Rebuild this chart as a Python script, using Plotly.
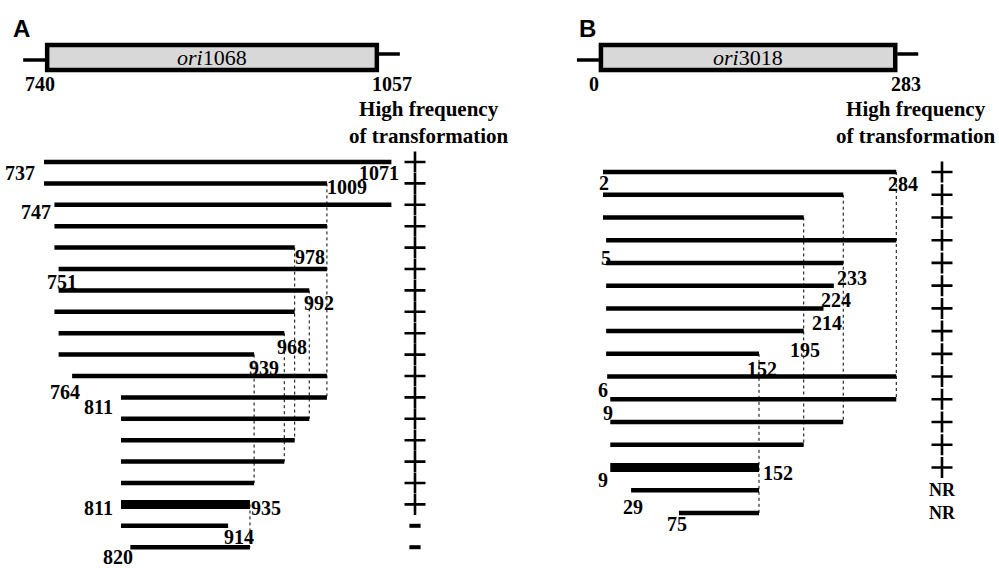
import plotly.graph_objects as go

W, H = 999, 568

# ---------------- data ----------------
# Panel A : ori1068
A_ori_name = "1068"
A_ori_start, A_ori_end = 740, 1057
A_start = [737, 737, 747, 747, 747, 751, 751, 747, 751, 751, 764, 811, 811, 811, 811, 811, 811, 811, 820]
A_end = [1071, 1009, 1071, 1009, 978, 1009, 992, 978, 968, 939, 1009, 1009, 992, 978, 968, 939, 935, 914, 935]
A_thick = [16]
A_hft = ["+"] * 17 + ["-"] * 2
A_dotted = [1009, 992, 978, 968, 939, 935]

# Panel B : ori3018
B_ori_name = "3018"
B_ori_start, B_ori_end = 0, 283
B_start = [2, 2, 2, 5, 5, 5, 5, 5, 5, 6, 9, 9, 9, 9, 29, 75]
B_end = [284, 233, 195, 284, 233, 224, 214, 195, 152, 284, 284, 233, 195, 152, 152, 152]
B_thick = [13]
B_hft = ["+"] * 14 + ["NR"] * 2
B_dotted = [284, 233, 195, 152]

HEADER = "High frequency<br>of transformation"

# label layout: (value, row position, xanchor, xshift px)
A_labels = [
    (737, 0.5, "right", -7), (1071, 0.5, "center", -12), (1009, 1.17, "left", -2),
    (747, 2.34, "right", -1), (978, 4.44, "left", -2), (751, 5.6, "center", 3),
    (992, 6.6, "left", -7), (968, 8.64, "left", -9), (939, 9.63, "left", -7),
    (764, 10.75, "right", 10), (811, 11.45, "right", -6), (811, 16.17, "right", -6),
    (935, 16.17, "left", -1), (914, 17.52, "left", -6), (820, 18.45, "right", 5),
]
B_labels = [
    (2, 0.48, "center", 1), (284, 0.53, "center", 7), (5, 3.78, "center", 0),
    (233, 4.66, "left", -8), (224, 5.63, "center", 2), (214, 6.64, "center", 4),
    (195, 7.83, "center", 1), (152, 8.67, "center", 3), (6, 9.59, "center", -4),
    (9, 10.6, "center", -2), (9, 13.55, "center", -7), (152, 13.24, "left", 2),
    (29, 14.74, "center", 2), (75, 15.49, "center", -2),
]

# ---------------- geometry (pixel calibration) ----------------
sA, ancA_val, ancA_px = 1.04, 811, 121
sB, ancB_val, ancB_px = 1.04, 2, 603
xA0 = ancA_val - ancA_px / sA
xB0 = ancB_val - ancB_px / sB
yA_top, yA_step = 162, 21.4
yB_top, yB_step = 172, 22.73


def xA(px):
    return xA0 + px / sA


def xB(px):
    return xB0 + px / sB


def py(px):
    return 1 - px / H


SERIF = "Liberation Serif"
SANS = "Liberation Sans"

fig = go.Figure()
annotations = []
shapes = []


def panel(starts, ends, thick, hft, dotted, labels, xaxis, yaxis, xfun, plus_px,
          ori_start, ori_end, ori_name, letter, letter_px, header_px,
          start_lab_px, end_lab_px):
    xr = "x" if xaxis == "x" else "x2"
    yr = "y" if yaxis == "y" else "y2"
    # dotted guides
    for v in dotted:
        rows = [i for i, e in enumerate(ends) if e == v]
        fig.add_trace(go.Scatter(x=[v, v], y=[min(rows), max(rows)], mode="lines",
                                 line=dict(color="black", width=1, dash="dot"),
                                 xaxis=xaxis, yaxis=yaxis, hoverinfo="skip", showlegend=False))
    # fragments
    for i, (s, e) in enumerate(zip(starts, ends)):
        fig.add_trace(go.Scatter(x=[s, e], y=[i, i], mode="lines",
                                 line=dict(color="black", width=9 if i in thick else 4.5),
                                 xaxis=xaxis, yaxis=yaxis, hoverinfo="skip", showlegend=False))
    # transformation column
    xp = xfun(plus_px)
    plus_rows = [i for i, h in enumerate(hft) if h == "+"]
    minus_rows = [i for i, h in enumerate(hft) if h == "-"]
    nr_rows = [i for i, h in enumerate(hft) if h == "NR"]
    if plus_rows:
        fig.add_trace(go.Scatter(x=[xp] * len(plus_rows), y=plus_rows, mode="markers",
                                 marker=dict(symbol="cross-thin", size=15,
                                             line=dict(color="black", width=2.6)),
                                 xaxis=xaxis, yaxis=yaxis, hoverinfo="skip", showlegend=False))
    if minus_rows:
        fig.add_trace(go.Scatter(x=[xp] * len(minus_rows), y=minus_rows, mode="markers",
                                 marker=dict(symbol="line-ew", size=8,
                                             line=dict(color="black", width=4)),
                                 xaxis=xaxis, yaxis=yaxis, hoverinfo="skip", showlegend=False))
    for r in nr_rows:
        annotations.append(dict(x=xp, y=r, xref=xr, yref=yr, text="<b>NR</b>", showarrow=False,
                                font=dict(family=SERIF, size=18, color="black"),
                                xanchor="center", yanchor="middle"))
    # numeric labels
    for v, r, anc, sh in labels:
        annotations.append(dict(x=v, y=r, xref=xr, yref=yr, text=f"<b>{v}</b>", showarrow=False,
                                font=dict(family=SERIF, size=20, color="black"),
                                xanchor=anc, yanchor="middle", xshift=sh))
    # ori box
    shapes.append(dict(type="rect", xref=xr, yref="paper", x0=ori_start, x1=ori_end,
                       y0=py(45), y1=py(70), fillcolor="#d8d8d8",
                       line=dict(color="black", width=4.5), layer="below"))
    shapes.append(dict(type="line", xref=xr, yref="paper", xsizemode="pixel", xanchor=ori_start,
                       x0=-24, x1=-2, y0=py(60), y1=py(60), line=dict(color="black", width=3.5)))
    shapes.append(dict(type="line", xref=xr, yref="paper", xsizemode="pixel", xanchor=ori_end,
                       x0=2, x1=23, y0=py(54), y1=py(54), line=dict(color="black", width=3.5)))
    annotations.append(dict(x=(ori_start + ori_end) / 2, y=py(57), xref=xr, yref="paper",
                            text=f"<i>ori</i>{ori_name}", showarrow=False,
                            font=dict(family=SERIF, size=22, color="black"),
                            xanchor="center", yanchor="middle"))
    annotations.append(dict(x=ori_start, y=py(84), xref=xr, yref="paper", text=f"<b>{ori_start}</b>",
                            showarrow=False, font=dict(family=SERIF, size=20, color="black"),
                            xanchor="center", yanchor="middle", xshift=start_lab_px))
    annotations.append(dict(x=ori_end, y=py(84), xref=xr, yref="paper", text=f"<b>{ori_end}</b>",
                            showarrow=False, font=dict(family=SERIF, size=20, color="black"),
                            xanchor="center", yanchor="middle", xshift=end_lab_px))
    # panel letter
    annotations.append(dict(x=letter_px / W, y=py(28), xref="paper", yref="paper",
                            text=f"<b>{letter}</b>", showarrow=False,
                            font=dict(family=SANS, size=24, color="black"),
                            xanchor="center", yanchor="middle"))
    # header
    annotations.append(dict(x=header_px / W, y=py(122), xref="paper", yref="paper",
                            text=f"<b>{HEADER}</b>", showarrow=False,
                            font=dict(family=SERIF, size=21, color="black"),
                            xanchor="center", yanchor="middle"))


panel(A_start, A_end, A_thick, A_hft, A_dotted, A_labels, "x", "y", xA, 415,
      A_ori_start, A_ori_end, A_ori_name, "A", 21, 429, -7, 15)
panel(B_start, B_end, B_thick, B_hft, B_dotted, B_labels, "x2", "y2", xB, 942,
      B_ori_start, B_ori_end, B_ori_name, "B", 587, 916, -7, 11)

axis_common = dict(visible=False, showgrid=False, zeroline=False, fixedrange=True)
fig.update_layout(
    width=W, height=H, margin=dict(l=0, r=0, t=0, b=0),
    paper_bgcolor="white", plot_bgcolor="white", showlegend=False,
    xaxis=dict(range=[xA(0), xA(W)], domain=[0, 1], anchor="y", **axis_common),
    yaxis=dict(range=[(H - yA_top) / yA_step, -yA_top / yA_step], domain=[0, 1], anchor="x", **axis_common),
    xaxis2=dict(range=[xB(0), xB(W)], domain=[0, 1], anchor="y2", overlaying="x", **axis_common),
    yaxis2=dict(range=[(H - yB_top) / yB_step, -yB_top / yB_step], domain=[0, 1], anchor="x2",
                overlaying="y", **axis_common),
    annotations=annotations, shapes=shapes,
)

fig.write_html("out.html", config={"staticPlot": True},
               post_script="document.body.style.margin='0px';document.body.style.overflow='hidden';")
